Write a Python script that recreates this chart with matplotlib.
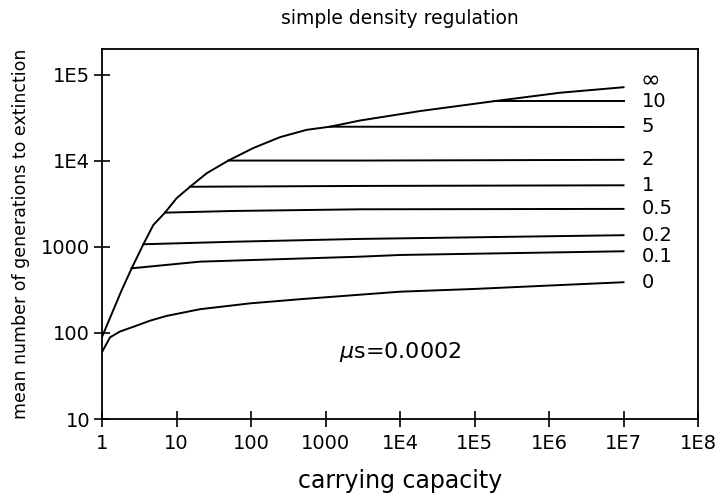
import numpy as np
import matplotlib
matplotlib.use('Agg')
import matplotlib.pyplot as plt

plt.rcParams['font.family'] = ['DejaVu Sans']

# curves: (carrying capacity, generations)
inf_x = [1, 1.84, 2.5, 3.59, 4.88, 7.0, 10, 15.2, 25.4, 49.6, 107, 245, 560,
         1150, 2900, 1.86e4, 1.8e5, 1.4e6, 1e7]
inf_y = [90, 316, 565, 1075, 1800, 2505, 3680, 5010, 7190, 10100, 14100, 18900, 23000,
         25000, 29500, 38000, 49400, 62000, 71900]

lines = {
    '10':  ([1.8e5, 1e7], [49400, 49400]),
    '5':   ([1150, 1e5, 1e7], [25000, 24900, 24800]),
    '2':   ([49.6, 2900, 1e7], [10100, 10100, 10300]),
    '1':   ([15.2, 2900, 1e7], [5010, 5120, 5210]),
    '0.5': ([7.0, 58, 2900, 1e7], [2505, 2620, 2740, 2770]),
    '0.2': ([3.59, 58, 2900, 1e7], [1075, 1150, 1240, 1370]),
    '0.1': ([2.5, 20.7, 2900, 1e4, 1e7], [565, 675, 771, 807, 891]),
    '0':   ([1, 1.28, 1.74, 2.63, 4.41, 7.38, 20.7, 97, 456, 1e4, 1e5, 1e6, 1e7],
            [60, 89, 104, 118, 139, 158, 189, 221, 247, 302, 325, 356, 389]),
}
label_shift = {'10': 0, '5': 0, '2': 0, '1': 0, '0.5': 0, '0.2': 0, '0.1': -4, '0': 0}

xticks = [1, 10, 100, 1000, 1e4, 1e5, 1e6, 1e7, 1e8]
xticklabels = ['1', '10', '100', '1000', '1E4', '1E5', '1E6', '1E7', '1E8']
yticks = [10, 100, 1000, 1e4, 1e5]
yticklabels = ['10', '100', '1000', '1E4', '1E5']

fig = plt.figure(figsize=(7.19, 4.98), dpi=100)
ax = fig.add_axes([0.1419, 0.1586, 0.8289, 0.743])

ax.plot(inf_x, inf_y, color='black', lw=1.4)
ax.annotate('∞', xy=(inf_x[-1], inf_y[-1]), xytext=(12, 5), textcoords='offset points',
            va='center', ha='left', fontsize=17)
for name, (xs, ys) in lines.items():
    ax.plot(xs, ys, color='black', lw=1.4)
    ax.annotate(name, xy=(xs[-1], ys[-1]), xytext=(13, label_shift[name]),
                textcoords='offset points', va='center', ha='left', fontsize=14)

ax.set_xscale('log')
ax.set_yscale('log')
ax.set_xlim(1, 1e8)
ax.set_ylim(10, 2e5)
ax.set_xticks(xticks)
ax.set_xticklabels(xticklabels)
ax.set_yticks(yticks)
ax.set_yticklabels(yticklabels)
ax.minorticks_off()
ax.tick_params(direction='inout', length=11, width=1.2, labelsize=14)
ax.tick_params(axis='x', pad=5)
ax.tick_params(axis='y', pad=3)
for s in ax.spines.values():
    s.set_linewidth(1.3)

ax.text(1e4, 60, r'$\mu$s=0.0002', fontsize=16, ha='center', va='center')

ax.set_title('simple density regulation', fontsize=13.5, pad=18)
ax.set_xlabel('carrying capacity', fontsize=17, labelpad=12)
ax.set_ylabel('mean number of generations to extinction', fontsize=12.5, labelpad=8)

fig.savefig('out.png', dpi=100)
